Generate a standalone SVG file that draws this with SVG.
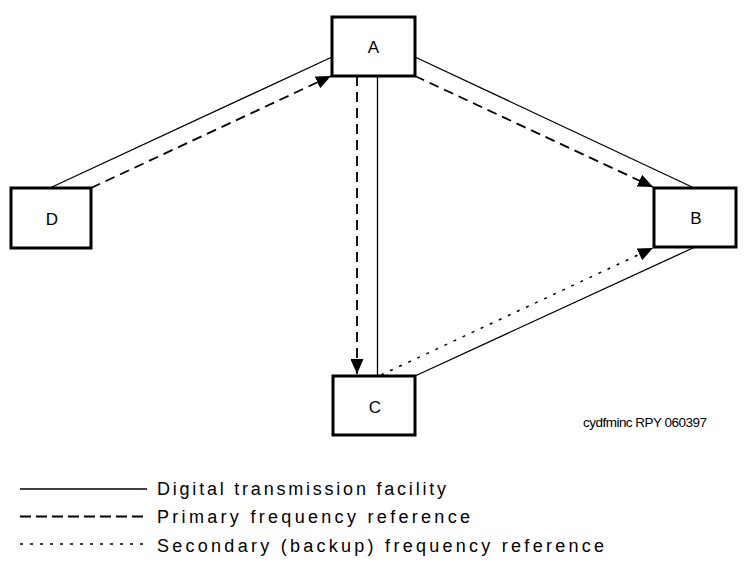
<svg xmlns="http://www.w3.org/2000/svg" width="744" height="566" viewBox="0 0 744 566">
<style>
.box{fill:#fff;stroke:#000;stroke-width:3}
.lbl{font-family:"Liberation Sans",Arial,sans-serif;font-size:17px;fill:#000;text-anchor:middle}
.solid{stroke:#000;stroke-width:1.3;fill:none}
.dash{stroke:#000;stroke-width:1.8;fill:none;stroke-dasharray:10 6}
.dot{stroke:#000;stroke-width:1.5;fill:none;stroke-dasharray:3 7}
.leg{font-family:"Liberation Sans",Arial,sans-serif;font-size:18px;fill:#000}
.note{font-family:"Liberation Sans",Arial,sans-serif;font-size:13.5px;fill:#000}
</style>
<defs>
<marker id="arr" markerUnits="userSpaceOnUse" markerWidth="15" markerHeight="13" refX="15" refY="6.5" orient="auto">
<path d="M0,0 L15,6.5 L0,13 z" fill="#000"/>
</marker>
</defs>
<rect width="744" height="566" fill="#fff"/>
<g id="connectors">
<line class="solid" x1="52" y1="187" x2="332" y2="57"/>
<line class="dash" x1="91" y1="188" x2="331" y2="76" marker-end="url(#arr)"/>
<line class="solid" x1="377.5" y1="76" x2="377.5" y2="376"/>
<line class="dash" x1="357" y1="76" x2="357" y2="374" marker-end="url(#arr)"/>
<line class="solid" x1="415" y1="57" x2="692" y2="187"/>
<line class="dash" x1="415" y1="76" x2="653" y2="187" marker-end="url(#arr)"/>
<line class="solid" x1="415" y1="376" x2="695" y2="247"/>
<line class="dot" x1="381" y1="375" x2="653" y2="248" marker-end="url(#arr)"/>
</g>
<g id="node-A">
<rect class="box" x="332" y="17" width="83" height="59"/>
<text class="lbl" x="373.5" y="52.5">A</text>
</g>
<g id="node-B">
<rect class="box" x="654" y="188" width="82" height="59"/>
<text class="lbl" x="696" y="224">B</text>
</g>
<g id="node-C">
<rect class="box" x="333" y="376" width="82" height="59"/>
<text class="lbl" x="375" y="412.5">C</text>
</g>
<g id="node-D">
<rect class="box" x="11" y="188" width="80" height="60"/>
<text class="lbl" x="52" y="225">D</text>
</g>
<text class="note" x="583" y="427" textLength="124" lengthAdjust="spacing">cydfminc RPY 060397</text>
<g id="legend">
<line class="solid" x1="20" y1="489" x2="147" y2="489"/>
<line x1="20" y1="516.5" x2="147" y2="516.5" stroke="#000" stroke-width="2" stroke-dasharray="11 5"/>
<line x1="20" y1="544" x2="147" y2="544" stroke="#000" stroke-width="1.5" stroke-dasharray="3 7"/>
<text class="leg" x="157" y="495" textLength="289" lengthAdjust="spacing">Digital transmission facility</text>
<text class="leg" x="157" y="523" textLength="313" lengthAdjust="spacing">Primary frequency reference</text>
<text class="leg" x="157" y="552" textLength="447" lengthAdjust="spacing">Secondary (backup) frequency reference</text>
</g>
</svg>
